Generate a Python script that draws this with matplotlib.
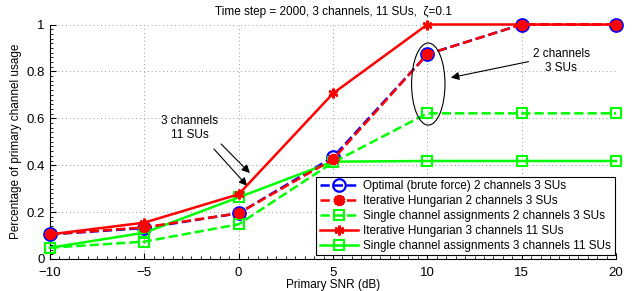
import numpy as np
import matplotlib
matplotlib.use("Agg")
import matplotlib.pyplot as plt
from matplotlib.patches import Ellipse
from matplotlib.ticker import MultipleLocator

snr_db = [-10, -5, 0, 5, 10, 15, 20]

opt_2ch = [0.105, 0.132, 0.195, 0.434, 0.873, 1.0, 1.0]
hung_2ch = [0.105, 0.135, 0.195, 0.425, 0.873, 1.0, 1.0]
single_2ch = [0.048, 0.074, 0.148, 0.412, 0.621, 0.621, 0.621]
hung_3ch = [0.105, 0.155, 0.276, 0.706, 1.0, 1.0, 1.0]
single_3ch = [0.048, 0.112, 0.263, 0.415, 0.418, 0.418, 0.418]

labels = [
    "Optimal (brute force) 2 channels 3 SUs",
    "Iterative Hungarian 2 channels 3 SUs",
    "Single channel assignments 2 channels 3 SUs",
    "Iterative Hungarian 3 channels 11 SUs",
    "Single channel assignments 3 channels 11 SUs",
]

plt.rcParams["font.family"] = ["Liberation Sans", "DejaVu Sans"]
plt.rcParams["font.size"] = 8.5

fig = plt.figure(figsize=(6.32, 2.91), dpi=100)
ax = fig.add_axes([0.0791, 0.110, 0.8956, 0.8058])

GREEN = (0, 1, 0)
ast = (6, 2, 0)

ax.plot(snr_db, opt_2ch, "--", color="blue", lw=1.8, marker="o", ms=9,
        mfc="none", mec="blue", mew=1.6, label=labels[0], zorder=3, clip_on=False)
ax.plot(snr_db, hung_2ch, "--", color="red", lw=1.8, marker=ast, ms=8,
        mec="red", mew=3.2, label=labels[1], zorder=4, clip_on=False)
ax.plot(snr_db, single_2ch, "--", color=GREEN, lw=1.8, marker="s", ms=7,
        mfc="none", mec=GREEN, mew=1.5, label=labels[2], zorder=3, clip_on=False)
ax.plot(snr_db, hung_3ch, "-", color="red", lw=1.8, marker=ast, ms=7,
        mec="red", mew=1.8, label=labels[3], zorder=4, clip_on=False)
ax.plot(snr_db, single_3ch, "-", color=GREEN, lw=1.8, marker="s", ms=7,
        mfc="none", mec=GREEN, mew=1.5, label=labels[4], zorder=3, clip_on=False)

ax.set_xlim(-10, 20)
ax.set_ylim(0, 1)
ax.set_xticks(snr_db)
ax.set_xticklabels(["\u221210", "\u22125", "0", "5", "10", "15", "20"])
ax.set_yticks([0, 0.2, 0.4, 0.6, 0.8, 1])
ax.set_yticklabels(["0", "0.2", "0.4", "0.6", "0.8", "1"])
ax.xaxis.set_minor_locator(MultipleLocator(0.5))
ax.yaxis.set_minor_locator(MultipleLocator(0.02))
ax.tick_params(which="both", direction="in")
ax.tick_params(which="major", length=4, labelsize=9.5)
ax.tick_params(axis="x", which="major", pad=6)
ax.tick_params(axis="y", which="major", pad=4)
ax.tick_params(which="minor", length=2)
ax.grid(True, which="major", linestyle=(0, (1, 3)), color="#999999", lw=0.7)
for s in ["top", "right"]:
    ax.spines[s].set_visible(False)

ax.set_title("Time step = 2000, 3 channels, 11 SUs,  \u03b6=0.1", fontsize=8.5, pad=7)
ax.set_xlabel("Primary SNR (dB)", fontsize=8.5, labelpad=0)
ax.set_ylabel("Percentage of primary channel usage", fontsize=8.5, labelpad=3)

# annotations
ax.text(-2.58, 0.557, "3 channels\n11 SUs", ha="center", va="center", fontsize=8.5)
ax.annotate("", xy=(0.70, 0.358), xytext=(-1.04, 0.499),
            arrowprops=dict(arrowstyle="-|>", color="black", lw=0.8, mutation_scale=12))
ax.annotate("", xy=(0.55, 0.303), xytext=(-1.41, 0.478),
            arrowprops=dict(arrowstyle="-|>", color="black", lw=0.8, mutation_scale=12))

ax.text(17.1, 0.844, "2 channels\n3 SUs", ha="center", va="center", fontsize=8.5)
ax.annotate("", xy=(11.1, 0.771), xytext=(15.5, 0.844),
            arrowprops=dict(arrowstyle="-|>", color="black", lw=0.8, mutation_scale=12))
ax.add_patch(Ellipse((10.05, 0.746), 1.77, 0.35, fill=False, ec="black", lw=0.8, zorder=5))

leg = ax.legend(loc="lower right", bbox_to_anchor=(0.998, 0.015), fontsize=8.5,
                frameon=True, fancybox=False, edgecolor="black", framealpha=1,
                handlelength=3.2, borderpad=0.3, labelspacing=0.25, handletextpad=0.5,
                borderaxespad=0)
leg.get_frame().set_linewidth(0.8)
leg.set_zorder(10)

fig.savefig("out.png", dpi=100)
